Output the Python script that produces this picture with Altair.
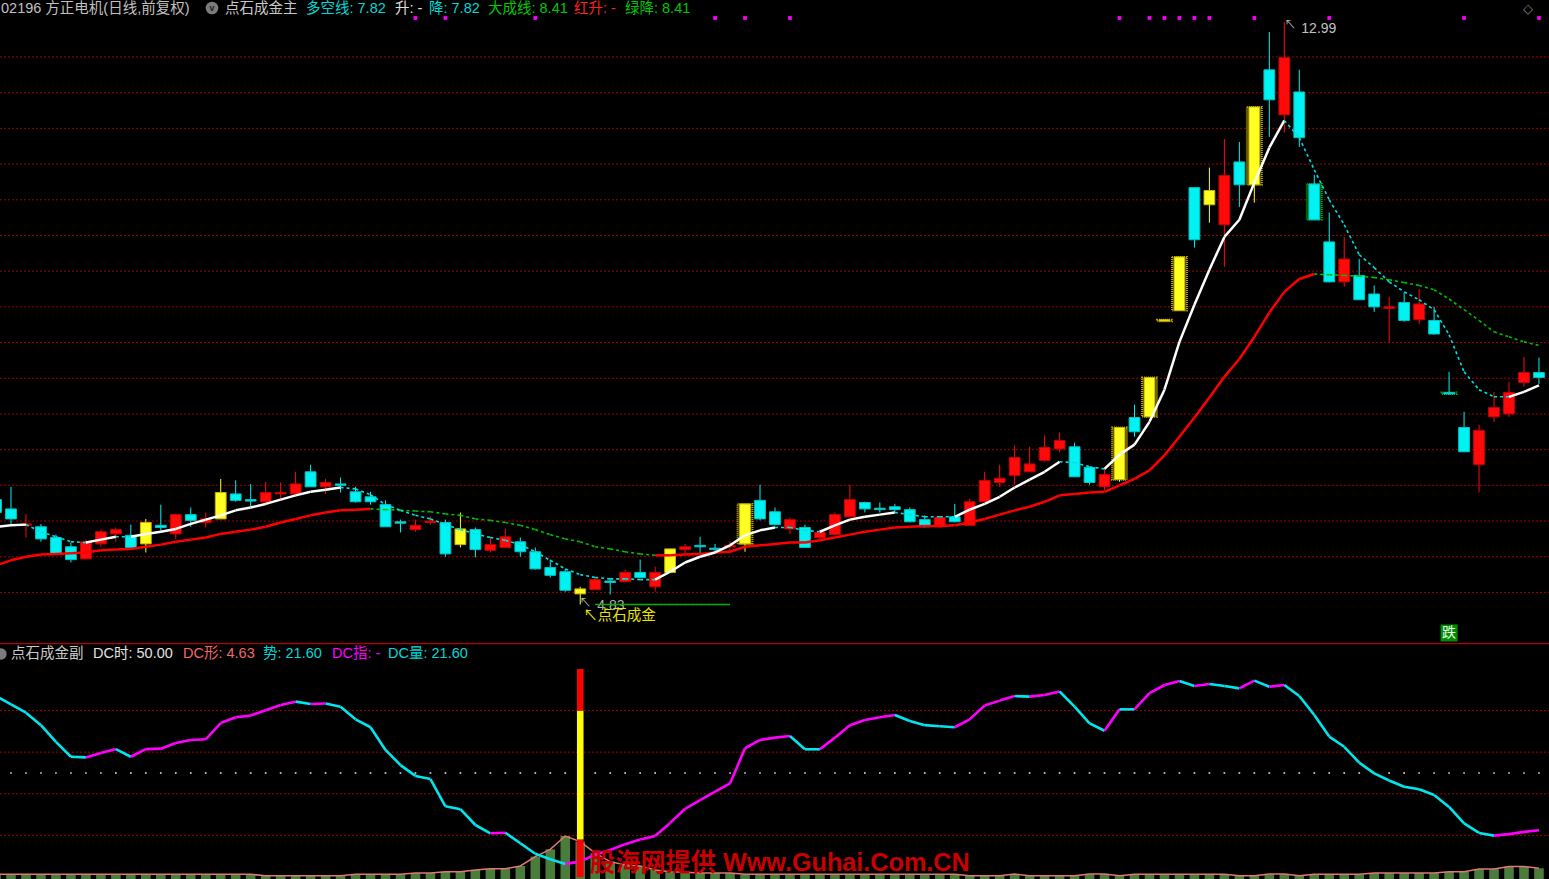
import altair as alt
import pandas as pd

# ---------------- data ----------------
opens = [6.30, 6.17, 5.94, 5.92, 5.77, 5.64, 5.47, 5.68, 5.82, 5.80,
         5.68, 5.94, 5.82, 6.09, 5.98, 6.03, 6.38, 6.30, 6.27, 6.38,
         6.38, 6.69, 6.48, 6.52, 6.41, 6.34, 6.23, 5.99, 5.88, 5.98,
         5.98, 5.67, 5.88, 5.59, 5.63, 5.71, 5.57, 5.35, 5.29, 4.98,
         5.04, 5.16, 5.15, 5.28, 5.08, 5.28, 5.60, 5.66, 5.62, 5.64,
         5.68, 6.29, 6.13, 5.89, 5.91, 5.77, 5.81, 6.06, 6.26, 6.18,
         6.20, 6.16, 6.02, 5.92, 6.06, 5.94, 6.27, 6.54, 6.64, 6.69,
         6.85, 7.01, 7.04, 6.75, 6.48, 6.58, 7.45, 7.46, 8.80, 8.95,
         10.67, 10.43, 10.15, 11.03, 10.71, 12.32, 11.69, 12.01, 10.72, 9.91,
         9.35, 9.44, 9.18, 8.98, 9.06, 8.82, 8.81, 7.80, 7.31, 6.79,
         7.46, 7.50, 7.94, 8.08]
highs = [6.33, 6.48, 6.10, 5.96, 5.81, 5.70, 5.74, 5.88, 5.91, 5.95,
         6.03, 6.23, 6.10, 6.19, 6.12, 6.59, 6.57, 6.52, 6.55, 6.54,
         6.69, 6.79, 6.59, 6.61, 6.48, 6.41, 6.29, 6.02, 6.02, 6.06,
         6.02, 6.12, 5.91, 5.77, 5.89, 5.77, 5.63, 5.46, 5.33, 5.08,
         5.21, 5.18, 5.32, 5.46, 5.36, 5.61, 5.68, 5.78, 5.68, 5.71,
         6.24, 6.51, 6.19, 6.05, 5.95, 5.88, 6.12, 6.51, 6.27, 6.26,
         6.24, 6.19, 6.08, 6.06, 6.24, 6.31, 6.69, 6.79, 7.06, 7.04,
         7.20, 7.24, 7.10, 6.76, 6.75, 7.31, 7.63, 8.01, 8.82, 9.70,
         10.67, 10.95, 11.35, 11.31, 11.80, 12.85, 12.99, 12.32, 10.85, 10.32,
         9.98, 9.67, 9.30, 9.14, 9.20, 9.25, 9.00, 8.09, 7.53, 7.35,
         7.81, 7.95, 8.30, 8.29]
lows = [6.08, 5.95, 5.77, 5.71, 5.53, 5.42, 5.47, 5.64, 5.71, 5.63,
        5.56, 5.84, 5.75, 5.92, 5.91, 6.03, 6.27, 6.20, 6.23, 6.29,
        6.34, 6.48, 6.38, 6.40, 6.26, 6.23, 5.92, 5.84, 5.85, 5.95,
        5.50, 5.63, 5.49, 5.56, 5.63, 5.50, 5.32, 5.21, 5.01, 4.83,
        5.04, 4.97, 5.15, 5.21, 5.01, 5.28, 5.54, 5.54, 5.54, 5.57,
        5.57, 6.01, 5.94, 5.82, 5.63, 5.71, 5.80, 6.06, 6.12, 6.12,
        6.13, 5.98, 5.91, 5.91, 5.98, 5.94, 6.27, 6.48, 6.51, 6.69,
        6.83, 6.96, 6.62, 6.51, 6.43, 6.55, 7.18, 7.46, 8.80, 8.95,
        9.83, 10.18, 9.56, 10.40, 10.46, 11.38, 11.44, 11.24, 10.22, 9.34,
        9.28, 9.10, 8.93, 8.50, 8.79, 8.76, 8.61, 7.77, 6.97, 6.40,
        7.39, 7.46, 7.88, 7.92]
closes = [6.12, 6.03, 5.96, 5.75, 5.54, 5.46, 5.71, 5.85, 5.88, 5.63,
          5.98, 5.91, 6.09, 6.01, 6.03, 6.40, 6.29, 6.28, 6.40, 6.40,
          6.52, 6.48, 6.54, 6.50, 6.27, 6.27, 5.92, 5.97, 5.94, 6.00,
          5.54, 5.89, 5.60, 5.67, 5.78, 5.57, 5.33, 5.24, 5.03, 5.05,
          5.18, 5.14, 5.28, 5.21, 5.28, 5.61, 5.64, 5.64, 5.60, 5.66,
          6.24, 6.03, 5.95, 6.02, 5.63, 5.84, 6.09, 6.30, 6.17, 6.16,
          6.16, 5.99, 5.92, 6.05, 5.99, 6.27, 6.57, 6.60, 6.89, 6.80,
          7.03, 7.13, 6.62, 6.54, 6.65, 7.31, 7.25, 8.01, 8.82, 9.70,
          9.94, 10.63, 10.84, 10.71, 11.80, 11.90, 12.49, 11.37, 10.22, 9.35,
          9.67, 9.10, 9.00, 9.00, 8.81, 9.04, 8.62, 7.78, 6.97, 7.27,
          7.59, 7.80, 8.08, 8.01]

yellow_idx = [10, 15, 31, 39, 45, 50, 75, 77, 78, 79, 81, 84]
yellow_box_idx = [50, 75, 77, 78, 79, 84]
green_box_idx = [88, 97]

# 多空线
duokong = [5.92, 5.94, 5.95, 5.85, 5.78, 5.71, 5.70, 5.74, 5.78, 5.78,
           5.82, 5.85, 5.89, 5.96, 6.02, 6.08, 6.15, 6.19, 6.24, 6.30,
           6.36, 6.41, 6.44, 6.47, 6.45, 6.37, 6.23, 6.15, 6.08, 6.03,
           5.95, 5.88, 5.82, 5.77, 5.73, 5.67, 5.57, 5.45, 5.33, 5.25,
           5.21, 5.19, 5.19, 5.18, 5.18, 5.29, 5.42, 5.50, 5.56, 5.66,
           5.80, 5.87, 5.91, 5.91, 5.87, 5.85, 5.94, 6.02, 6.06, 6.09,
           6.12, 6.09, 6.06, 6.06, 6.06, 6.16, 6.24, 6.34, 6.47, 6.58,
           6.69, 6.83, 6.82, 6.76, 6.73, 6.93, 7.07, 7.39, 7.84, 8.51,
           9.03, 9.52, 9.98, 10.22, 10.74, 11.23, 11.61, 11.37, 10.92, 10.50,
           10.15, 9.73, 9.55, 9.35, 9.21, 9.10, 8.96, 8.61, 8.09, 7.84,
           7.74, 7.74, 7.81, 7.90]
# 大成线
dacheng = [5.38, 5.45, 5.50, 5.53, 5.54, 5.55, 5.56, 5.59, 5.60, 5.61,
           5.64, 5.67, 5.71, 5.74, 5.77, 5.82, 5.85, 5.88, 5.92, 5.98,
           6.03, 6.08, 6.12, 6.15, 6.16, 6.17, 6.16, 6.15, 6.14, 6.13,
           6.10, 6.08, 6.03, 6.01, 5.98, 5.94, 5.88, 5.81, 5.75, 5.71,
           5.64, 5.61, 5.57, 5.54, 5.52, 5.52, 5.53, 5.54, 5.56, 5.57,
           5.64, 5.66, 5.68, 5.70, 5.70, 5.73, 5.77, 5.81, 5.85, 5.88,
           5.91, 5.92, 5.93, 5.93, 5.94, 5.98, 6.03, 6.09, 6.15, 6.20,
           6.27, 6.36, 6.38, 6.40, 6.41, 6.50, 6.59, 6.71, 6.92, 7.18,
           7.45, 7.73, 8.02, 8.27, 8.58, 8.92, 9.21, 9.39, 9.46, 9.45,
           9.44, 9.43, 9.41, 9.38, 9.34, 9.30, 9.24, 9.11, 8.96, 8.81,
           8.65, 8.58, 8.51, 8.46]

signal_idx = [28, 30, 36, 48, 50, 53, 75, 77, 78, 79, 80, 81, 84, 89, 98, 103]
grid_levels = [5.0, 5.5, 6.0, 6.5, 7.0, 7.5, 8.0, 8.5, 9.0, 9.5,
               10.0, 10.5, 11.0, 11.5, 12.0, 12.5]
high_idx, high_price = 86, 12.99
low_idx, low_price = 39, 4.83
low_line_span = [40, 49]
fall_idx = 97

# sub panel: 势 line, DC量 histogram, signal bar
shi = [87, 83, 79, 73, 65, 57.8, 57.5, 59.6, 61.5, 57.8,
       61.5, 61.7, 64.4, 65.9, 66.2, 74, 76.8, 77.6, 80.2, 82.7,
       84.3, 83.2, 83.4, 81.9, 75.8, 72, 61.1, 53.8, 48.6, 47.1,
       34, 32.6, 25, 21, 21.3, 16.2, 11.2, 8.5, 6.3, 7.4,
       10.8, 13, 15.8, 18, 19.7, 26, 32.8, 37, 41, 45,
       61.9, 65.9, 67, 67.8, 61.4, 61.4, 67, 73, 75.5, 76.8,
       77.9, 75, 73, 72.5, 72, 75.8, 82.5, 84.8, 87, 86.7,
       87.5, 89.2, 81.9, 73.9, 70.3, 80.6, 80.6, 88.4, 92.3, 94.2,
       91.8, 92.8, 91.8, 90.7, 94.4, 91.5, 92.3, 87, 77.9, 67.5,
       62.6, 55, 49.8, 46.4, 43.4, 42.2, 39.4, 33.7, 25.8, 21.2,
       19.9, 20.6, 21.7, 22.5]
dc_vol = [1.3, 1.3, 1.3, 1.3, 1.3, 1.3, 1.3, 1.3, 1.3, 1.3,
          1.3, 1.3, 1.3, 1.3, 1.3, 1.3, 1.3, 1.3, 0.6, 0.6,
          0.6, 0.6, 0.6, 0.6, 1.3, 1.3, 1.3, 1.3, 1.9, 1.9,
          2.5, 2.5, 3.4, 4.0, 4.0, 5.3, 9.8, 13.3, 19.7, 17.0,
          11.5, 7.4, 5.8, 5.3, 3.4, 2.5, 2.3, 1.9, 1.9, 1.9,
          1.3, 1.3, 1.3, 1.3, 1.3, 1.3, 1.3, 1.3, 1.3, 1.3,
          1.3, 1.3, 1.3, 1.3, 1.3, 0.6, 0.6, 0.6, 1.4, 0.6,
          0.6, 0.6, 0.6, 1.4, 1.4, 0.6, 1.3, 1.3, 1.3, 1.3,
          1.3, 1.3, 1.3, 0.6, 0.6, 1.4, 1.4, 0.6, 1.3, 1.3,
          1.3, 1.3, 1.9, 1.9, 1.9, 1.9, 1.9, 2.5, 2.5, 3.8,
          3.8, 5.0, 5.0, 4.2]
dc_bar_idx = 39
dc_bar_lo = [0, 18, 80]
dc_bar_hi = [18, 80, 100]
dc_bar_kind = ["red", "yellow", "red"]
sub_grid = [20, 40, 60, 80]
mid_level = 50

top_labels = ["02196 方正电机(日线,前复权)", "点石成金主", "多空线: 7.82", "升: -",
              "降: 7.82", "大成线: 8.41", "红升: -", "绿降: 8.41"]
sub_labels = ["点石成金副", "DC时: 50.00", "DC形: 4.63", "势: 21.60", "DC指: -", "DC量: 21.60"]
watermark = "股海网提供 Www.Guhai.Com.CN"
signal_text = "↖点石成金"
fall_text = "跌"

# ---------------- layout / styles ----------------
W, H_TOP, H_SUB = 1549, 643, 236
FONT = "Liberation Sans, Noto Sans CJK SC, sans-serif"
CJK = "Noto Sans CJK SC, Liberation Sans, sans-serif"

KIND_FILL = {"red": "#ff0a0a", "cyan": "#00f2f2", "yellow": "#ffff22"}
KIND_EDGE = {"red": "#c80000", "cyan": "#00c4c4", "yellow": "#c8b400"}
BOX_FILL = {"yellow": "#2e2800", "green": "#002a00"}
BOX_EDGE = {"yellow": "#b8a400", "green": "#00b000"}
BAR_FILL = {"red": "#ff0000", "yellow": "#ffff00"}

xs = alt.Scale(domain=[0.2657, 103.67], nice=False, zero=False)
ys = alt.Scale(domain=[4.292, 13.298], nice=False, zero=False)
ss = alt.Scale(domain=[-0.96, 112.5], nice=False, zero=False)


def X(f):
    return alt.X(f"{f}:Q", scale=xs, axis=None)


def YP(f):
    return alt.Y(f"{f}:Q", scale=ys, axis=None)


def YS(f):
    return alt.Y(f"{f}:Q", scale=ss, axis=None)


n = len(opens)
idx = list(range(n))
cdf = pd.DataFrame({"i": idx, "o": opens, "h": highs, "l": lows, "c": closes})
cdf["lo"] = cdf[["o", "c"]].min(axis=1)
cdf["hi"] = cdf[["o", "c"]].max(axis=1)
cdf["kind"] = ["yellow" if i in yellow_idx else ("red" if c >= o else "cyan")
               for i, o, c in zip(idx, opens, closes)]
cdf["fillc"] = cdf["kind"].map(KIND_FILL)
cdf["edgec"] = cdf["kind"].map(KIND_EDGE)
cdf["xl"] = cdf["i"] - 0.36
cdf["xr"] = cdf["i"] + 0.36

bdf = cdf[cdf["i"].isin(yellow_box_idx + green_box_idx)].copy()
bdf["box"] = ["yellow" if i in yellow_box_idx else "green" for i in bdf["i"]]
bdf["bfill"] = bdf["box"].map(BOX_FILL)
bdf["bedge"] = bdf["box"].map(BOX_EDGE)
bdf["bl"] = bdf["i"] - 0.5
bdf["br"] = bdf["i"] + 0.5


def segments(vals, strict):
    rows = []
    for k in range(len(vals) - 1):
        a, b = vals[k], vals[k + 1]
        rows.append({"i": k, "i2": k + 1, "v": a, "v2": b,
                     "up": bool(b > a) if strict else bool(b >= a)})
    return pd.DataFrame(rows)


dk_seg = segments(duokong, True)
dc_seg = segments(dacheng, False)
shi_seg = segments(shi, True)

# ---------------- top panel ----------------
grid = alt.Chart(pd.DataFrame({"p": grid_levels})).mark_rule(
    color="#a00000", strokeDash=[2, 2], strokeWidth=1, clip=True
).encode(y=YP("p"), x=alt.value(0), x2=alt.value(W))

boxes = alt.Chart(bdf).mark_rect(strokeWidth=2, strokeDash=[1, 1], clip=True).encode(
    x=X("bl"), x2="br", y=YP("lo"), y2="hi",
    fill=alt.Fill("bfill:N", scale=None),
    stroke=alt.Stroke("bedge:N", scale=None),
)

wicks = alt.Chart(cdf).mark_rule(strokeWidth=1, clip=True).encode(
    x=X("i"), y=YP("l"), y2="h",
    stroke=alt.Stroke("fillc:N", scale=None),
)

bodies = alt.Chart(cdf).mark_rect(strokeWidth=1, clip=True).encode(
    x=X("xl"), x2="xr", y=YP("lo"), y2="hi",
    fill=alt.Fill("fillc:N", scale=None),
    stroke=alt.Stroke("edgec:N", scale=None),
)

dc_up = alt.Chart(dc_seg).transform_filter("datum.up").mark_rule(
    color="#ff0000", strokeWidth=2.5, clip=True
).encode(x=X("i"), x2="i2", y=YP("v"), y2="v2")
dc_dn = alt.Chart(dc_seg).transform_filter("!datum.up").mark_rule(
    color="#00c000", strokeWidth=1.6, strokeDash=[3, 3], clip=True
).encode(x=X("i"), x2="i2", y=YP("v"), y2="v2")
dk_up = alt.Chart(dk_seg).transform_filter("datum.up").mark_rule(
    color="#ffffff", strokeWidth=2.5, clip=True
).encode(x=X("i"), x2="i2", y=YP("v"), y2="v2")
dk_dn = alt.Chart(dk_seg).transform_filter("!datum.up").mark_rule(
    color="#00e0e0", strokeWidth=1.6, strokeDash=[3, 3], clip=True
).encode(x=X("i"), x2="i2", y=YP("v"), y2="v2")

dots = alt.Chart(pd.DataFrame({"i": signal_idx})).mark_square(
    size=14, color="#ff00ff", opacity=1, clip=True
).encode(x=X("i"), y=alt.value(18))

hdf = pd.DataFrame({"i": [high_idx], "p": [high_price], "t": [f"{high_price:.2f}"]})
high_arrow = alt.Chart(hdf).mark_text(
    text="↖", align="left", baseline="middle", dx=0, dy=3, fontSize=12, font=CJK, color="#b8b8b8", clip=True
).encode(x=X("i"), y=YP("p"))
high_lbl = alt.Chart(hdf).mark_text(
    align="left", baseline="middle", dx=17, dy=7, fontSize=14, font=FONT, color="#c0c0c0", clip=True
).encode(x=X("i"), y=YP("p"), text="t:N")

ldf = pd.DataFrame({"i": [low_idx], "p": [low_price], "t": [f"{low_price:.2f}"]})
low_arrow = alt.Chart(ldf).mark_text(
    text="↖", align="left", baseline="middle", dx=-1, dy=-2, fontSize=12, font=CJK, color="#b8b8b8", clip=True
).encode(x=X("i"), y=YP("p"))
low_lbl = alt.Chart(ldf).mark_text(
    align="left", baseline="middle", dx=17, dy=1, fontSize=14, font=FONT, color="#b0b0b0", clip=True
).encode(x=X("i"), y=YP("p"), text="t:N")
low_line = alt.Chart(pd.DataFrame({"i": [low_line_span[0]], "i2": [low_line_span[1]], "p": [low_price]})).mark_rule(
    color="#00b400", strokeWidth=1.5, clip=True
).encode(x=X("i"), x2="i2", y=YP("p"))
gold_lbl = alt.Chart(pd.DataFrame({"i": [low_idx], "p": [low_price], "t": [signal_text]})).mark_text(
    align="left", baseline="middle", dx=3, dy=11, fontSize=14.5, font=CJK, color="#e8e400", clip=True
).encode(x=X("i"), y=YP("p"), text="t:N")

fdf = pd.DataFrame({"i": [fall_idx], "t": [fall_text]})
fall_box = alt.Chart(fdf).mark_square(size=290, color="#008c00", opacity=1, clip=True).encode(
    x=X("i"), y=alt.value(633))
fall_lbl = alt.Chart(fdf).mark_text(
    align="center", baseline="middle", fontSize=14, font=CJK, color="#e8ffe8", clip=True
).encode(x=X("i"), y=alt.value(633), text="t:N")

top_pos = [1, 225, 306, 395, 429, 488, 574, 625]
top_col = ["#c0c0c0", "#c8c8c8", "#00d8d8", "#e0e0e0", "#00d8d8", "#00c800", "#ff2020", "#00c800"]
top_texts = []
for t, xp, col in zip(top_labels, top_pos, top_col):
    top_texts.append(
        alt.Chart(pd.DataFrame({"t": [t]})).mark_text(
            align="left", baseline="middle", fontSize=14.5, font=FONT, color=col
        ).encode(x=alt.value(xp), y=alt.value(8.5), text="t:N")
    )
icon = alt.Chart(pd.DataFrame({"t": ["v"]})).mark_circle(size=160, color="#7c7c7c", opacity=1, clip=True).encode(
    x=alt.value(212), y=alt.value(8))
icon_v = alt.Chart(pd.DataFrame({"t": ["v"]})).mark_text(
    align="center", baseline="middle", fontSize=9, fontWeight="bold", font=FONT, color="#222222", clip=True
).encode(x=alt.value(212), y=alt.value(8), text="t:N")
corner = alt.Chart(pd.DataFrame({"t": ["◇"]})).mark_text(
    align="center", baseline="middle", fontSize=13, font="DejaVu Sans", color="#8a8a8a"
).encode(x=alt.value(1528), y=alt.value(9), text="t:N")

top = alt.layer(
    grid, boxes, wicks, bodies, dc_up, dc_dn, dk_up, dk_dn, dots,
    high_arrow, high_lbl, low_arrow, low_lbl, low_line, gold_lbl, fall_box, fall_lbl,
    icon, icon_v, corner, *top_texts
).properties(width=W, height=H_TOP)

# ---------------- sub panel ----------------
sep = alt.Chart(pd.DataFrame({"k": [0]})).mark_rule(color="#b40000", strokeWidth=1.2, clip=True).encode(
    y=alt.value(0.6), x=alt.value(0), x2=alt.value(W))
sgrid = alt.Chart(pd.DataFrame({"v": sub_grid})).mark_rule(
    color="#a00000", strokeDash=[2, 2], strokeWidth=1, clip=True
).encode(y=YS("v"), x=alt.value(0), x2=alt.value(W))
mid = alt.Chart(pd.DataFrame({"i": idx, "v": [mid_level] * n})).mark_square(
    size=3, color="#c8c8c8", opacity=1, clip=True
).encode(x=X("i"), y=YS("v"))

vdf = pd.DataFrame({"i": idx, "v": dc_vol})
vdf["xl"] = vdf["i"] - 0.32
vdf["xr"] = vdf["i"] + 0.32
hist = alt.Chart(vdf).mark_rect(color="#4a7c3c", clip=True).encode(
    x=X("xl"), x2="xr", y=YS("v"), y2=alt.value(H_SUB))
hist_line = alt.Chart(vdf).mark_line(color="#e07a72", strokeWidth=1.5, clip=True).encode(
    x=X("i"), y=YS("v"))

shi_line = alt.Chart(shi_seg).mark_rule(strokeWidth=2.6, clip=True).encode(
    x=X("i"), x2="i2", y=YS("v"), y2="v2",
    color=alt.condition("datum.up", alt.value("#ff00ff"), alt.value("#00e6ee")),
)

bar_df = pd.DataFrame({"lo": dc_bar_lo, "hi": dc_bar_hi, "kind": dc_bar_kind})
bar_df["fillc"] = bar_df["kind"].map(BAR_FILL)
bar_df["xl"] = dc_bar_idx - 0.22
bar_df["xr"] = dc_bar_idx + 0.22
sig_bar = alt.Chart(bar_df).mark_rect(clip=True).encode(
    x=X("xl"), x2="xr", y=YS("lo"), y2="hi",
    fill=alt.Fill("fillc:N", scale=None),
)

sub_pos = [11, 93, 183, 263, 332, 388]
sub_col = ["#c8c8c8", "#e0e0e0", "#f06868", "#00d8d8", "#ff00ff", "#00d8d8"]
sub_texts = []
for t, xp, col in zip(sub_labels, sub_pos, sub_col):
    sub_texts.append(
        alt.Chart(pd.DataFrame({"t": [t]})).mark_text(
            align="left", baseline="middle", fontSize=14.5, font=FONT, color=col, clip=True
        ).encode(x=alt.value(xp), y=alt.value(11), text="t:N")
    )
sub_icon = alt.Chart(pd.DataFrame({"k": [0]})).mark_circle(size=130, color="#7c7c7c", opacity=1, clip=True).encode(
    x=alt.value(1), y=alt.value(11))

wm = alt.Chart(pd.DataFrame({"t": [watermark]})).mark_text(
    align="left", baseline="middle", fontSize=25.2, fontWeight="bold", font=FONT, color="#c80000", clip=True
).encode(x=alt.value(590), y=alt.value(220), text="t:N")

sub = alt.layer(
    sgrid, mid, hist, hist_line, shi_line, sig_bar, sep, sub_icon, *sub_texts, wm
).properties(width=W, height=H_SUB)

chart = alt.vconcat(top, sub, spacing=0).properties(
    background="#000000", padding=0
).configure_view(strokeWidth=0)

chart.save("out.html", embed_options={
    "renderer": "svg", "actions": False,
    "defaultStyle": "body{margin:0;padding:0;background:#000;overflow:hidden}"
})
